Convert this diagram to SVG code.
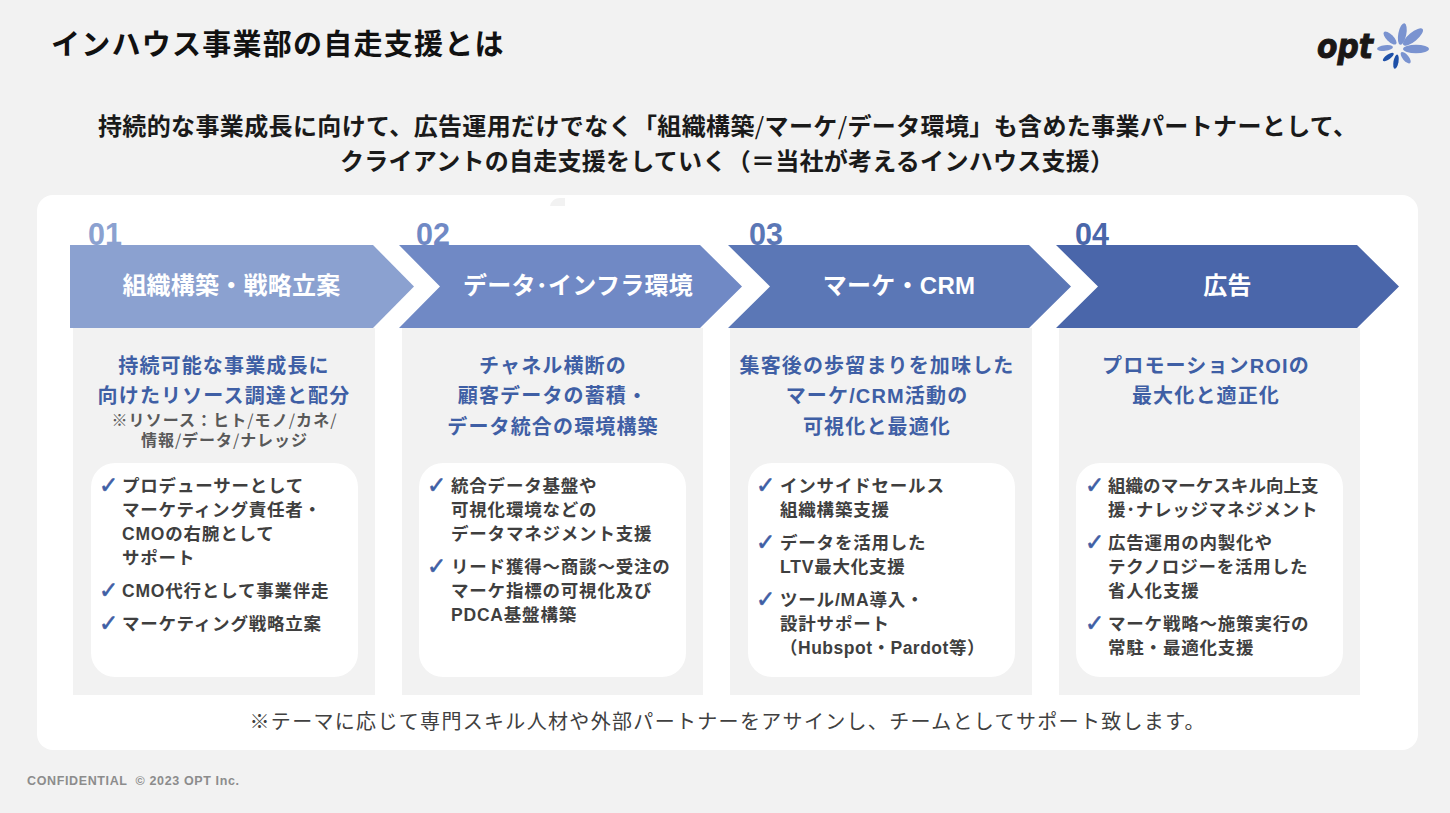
<svg xmlns="http://www.w3.org/2000/svg" width="1450" height="813" viewBox="0 0 1450 813">
<style>
text{font-family:"Liberation Sans","Noto Sans CJK JP",sans-serif;font-weight:700}
.cjk{font-family:"Noto Sans CJK JP",sans-serif}
.sl{font-family:"Noto Sans CJK JP",sans-serif;font-weight:400}
.title{font-size:29px;fill:#111;letter-spacing:1.25px}
.sub{font-size:24px;fill:#1a1a1a}
.num{font-size:30.500px}
.step{font-size:24px;fill:#fff;text-anchor:middle;letter-spacing:.25px}
.head{font-size:20px;fill:#3f5fa5;text-anchor:middle;letter-spacing:1.15px}
.note{font-size:16px;fill:#595959;text-anchor:middle}
.item{font-size:17.500px;fill:#3f3f3f;letter-spacing:.8px}
.chk{font-size:23px;fill:#3f5fa5;stroke:#3f5fa5;stroke-width:.6px;font-family:"DejaVu Sans",sans-serif}
.col{fill:#f2f2f2}
.card{fill:#fff}
.pl{fill:#7a93d0}
.pd{fill:#1e50a8}
</style>
<rect width="1450" height="813" fill="#f2f2f2"/>
<g id="header">
<text class="title" x="51" y="55">インハウス事業部の自走支援とは</text>
<text class="sub" x="98" y="135" textLength="1259" lengthAdjust="spacing">持続的な事業成長に向けて、広告運用だけでなく「組織構築<tspan class="sl">/</tspan>マーケ<tspan class="sl">/</tspan>データ環境」も含めた事業パートナーとして、</text>
<text class="sub" x="340" y="170" textLength="774" lengthAdjust="spacing">クライアントの自走支援をしていく（＝当社が考えるインハウス支援）</text>
</g>
<g id="logo">
<text x="1317" y="58" font-size="33" font-style="italic" fill="#1a1716" stroke="#1a1716" stroke-width="1" textLength="56" lengthAdjust="spacingAndGlyphs" style="font-family:'DejaVu Sans',sans-serif;font-weight:700">opt</text>
<ellipse class="pl" cx="1402.300" cy="34" rx="11" ry="4" transform="rotate(-79 1402.300 34)"/>
<ellipse class="pl" cx="1413" cy="37" rx="12.500" ry="4.500" transform="rotate(-40 1413 37)"/>
<ellipse class="pl" cx="1416" cy="49" rx="13" ry="4.200"/>
<ellipse class="pl" cx="1405.700" cy="57.700" rx="7" ry="3" transform="rotate(50 1405.700 57.700)"/>
<ellipse class="pd" cx="1396" cy="61.700" rx="7.200" ry="2.500" transform="rotate(-80 1396 61.700)"/>
<ellipse class="pd" cx="1388.300" cy="57" rx="6.500" ry="2.300" transform="rotate(-35 1388.300 57)"/>
<ellipse class="pl" cx="1385" cy="48" rx="8" ry="2.800" transform="rotate(-7 1385 48)"/>
<ellipse class="pl" cx="1390" cy="38" rx="8.500" ry="3.500" transform="rotate(45 1390 38)"/>
</g>
<rect id="panel" x="37" y="195" width="1381" height="555" rx="16" fill="#fff"/>
<path d="M550 206Q552 198 560 198H565V206Z" fill="#f2f2f2"/>
<g id="step-01">
<rect class="col" x="73" y="328" width="302" height="367"/>
<text class="num" x="88" y="245" fill="#8ba1d0">01</text>
<path d="M70 245H373L414 286.500L373 328H70Z" fill="#8ba1d0"/>
<text class="step" x="231.500" y="294">組織構築・戦略立案</text>
<text class="head" x="224" y="373">持続可能な事業成長に</text>
<text class="head" x="224" y="403">向けたリソース調達と配分</text>
<text class="note" x="224" y="426" textLength="225" lengthAdjust="spacing"><tspan class="cjk">※</tspan>リソース：ヒト<tspan class="sl">/</tspan>モノ<tspan class="sl">/</tspan>カネ<tspan class="sl">/</tspan></text>
<text class="note" x="224" y="446" textLength="166" lengthAdjust="spacing">情報<tspan class="sl">/</tspan>データ<tspan class="sl">/</tspan>ナレッジ</text>
<rect class="card" x="91" y="463" width="267" height="214" rx="24"/>
<text class="chk" x="99" y="493">✓</text>
<text class="item" x="122" y="491.500">プロデューサーとして</text>
<text class="item" x="122" y="515.500">マーケティング責任者・</text>
<text class="item" x="122" y="539.500">CMOの右腕として</text>
<text class="item" x="122" y="563.500">サポート</text>
<text class="chk" x="99" y="598">✓</text>
<text class="item" x="122" y="596.500">CMO代行として事業伴走</text>
<text class="chk" x="99" y="631">✓</text>
<text class="item" x="122" y="629.500">マーケティング戦略立案</text>
</g>
<g id="step-02">
<rect class="col" x="402" y="328" width="301" height="367"/>
<text class="num" x="416" y="245" fill="#7089c5">02</text>
<path d="M399 245H700L742 286.500L700 328H399L440 286.500Z" fill="#7089c5"/>
<text class="step" x="578" y="294">データ･インフラ環境</text>
<text class="head" x="553" y="373">チャネル横断の</text>
<text class="head" x="553" y="403">顧客データの蓄積・</text>
<text class="head" x="553" y="434">データ統合の環境構築</text>
<rect class="card" x="419" y="463" width="267" height="214" rx="24"/>
<text class="chk" x="427" y="493">✓</text>
<text class="item" x="451" y="491.500">統合データ基盤や</text>
<text class="item" x="451" y="515.500">可視化環境などの</text>
<text class="item" x="451" y="539.500">データマネジメント支援</text>
<text class="chk" x="427" y="574">✓</text>
<text class="item" x="451" y="572.500">リード獲得～商談～受注の</text>
<text class="item" x="451" y="596.500">マーケ指標の可視化及び</text>
<text class="item" x="451" y="620.500">PDCA基盤構築</text>
</g>
<g id="step-03">
<rect class="col" x="730" y="328" width="302" height="367"/>
<text class="num" x="749" y="245" fill="#5b77b6">03</text>
<path d="M728 245H1029L1071 286.500L1029 328H728L770 286.500Z" fill="#5b77b6"/>
<text class="step" x="899" y="294">マーケ・CRM</text>
<text class="head" x="877" y="373">集客後の歩留まりを加味した</text>
<text class="head" x="877" y="403">マーケ/CRM活動の</text>
<text class="head" x="877" y="434">可視化と最適化</text>
<rect class="card" x="748" y="463" width="267" height="214" rx="24"/>
<text class="chk" x="756" y="493">✓</text>
<text class="item" x="780" y="491.500">インサイドセールス</text>
<text class="item" x="780" y="515.500">組織構築支援</text>
<text class="chk" x="756" y="550">✓</text>
<text class="item" x="780" y="548.500">データを活用した</text>
<text class="item" x="780" y="572.500">LTV最大化支援</text>
<text class="chk" x="756" y="607">✓</text>
<text class="item" x="780" y="605.500">ツール/MA導入・</text>
<text class="item" x="780" y="629.500">設計サポート</text>
<text class="item" x="780" y="653.500" style="letter-spacing:.5px">（Hubspot・Pardot等）</text>
</g>
<g id="step-04">
<rect class="col" x="1059" y="328" width="301" height="367"/>
<text class="num" x="1075" y="245" fill="#4a66aa">04</text>
<path d="M1056 245H1357L1399 286.500L1357 328H1056L1098 286.500Z" fill="#4a66aa"/>
<text class="step" x="1227.500" y="294">広告</text>
<text class="head" x="1206" y="373">プロモーションROIの</text>
<text class="head" x="1206" y="403">最大化と適正化</text>
<rect class="card" x="1076" y="463" width="267" height="214" rx="24"/>
<text class="chk" x="1085" y="493">✓</text>
<text class="item" x="1108" y="491.500" style="letter-spacing:.05px">組織のマーケスキル向上支</text>
<text class="item" x="1108" y="515.500" style="letter-spacing:.75px">援･ナレッジマネジメント</text>
<text class="chk" x="1085" y="550">✓</text>
<text class="item" x="1108" y="548.500">広告運用の内製化や</text>
<text class="item" x="1108" y="572.500">テクノロジーを活用した</text>
<text class="item" x="1108" y="596.500">省人化支援</text>
<text class="chk" x="1085" y="631">✓</text>
<text class="item" x="1108" y="629.500">マーケ戦略～施策実行の</text>
<text class="item" x="1108" y="653.500">常駐・最適化支援</text>
</g>
<g id="connectors"/>
<g id="footer">
<text x="249.500" y="729" font-size="20" fill="#404040" textLength="955" lengthAdjust="spacing" style="font-weight:400"><tspan class="cjk">※</tspan>テーマに応じて専門スキル人材や外部パートナーをアサインし、チームとしてサポート致します。</text>
<text x="27" y="785" font-size="12.500" fill="#8c8c8c" xml:space="preserve" textLength="212" lengthAdjust="spacing">CONFIDENTIAL  © 2023 OPT Inc.</text>
</g>
</svg>
